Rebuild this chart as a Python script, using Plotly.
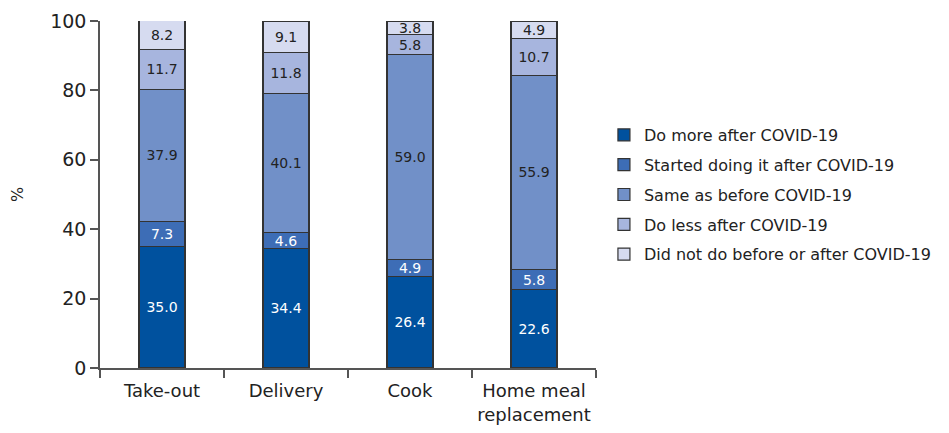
import plotly.graph_objects as go

categories = ["Take-out", "Delivery", "Cook", "Home meal<br>replacement"]
series_names = [
    "Do more after COVID-19",
    "Started doing it after COVID-19",
    "Same as before COVID-19",
    "Do less after COVID-19",
    "Did not do before or after COVID-19",
]
do_more = [35.0, 34.4, 26.4, 22.6]
started = [7.3, 4.6, 4.9, 5.8]
same = [37.9, 40.1, 59.0, 55.9]
do_less = [11.7, 11.8, 5.8, 10.7]
did_not = [8.2, 9.1, 3.8, 4.9]
y_ticks = [0, 20, 40, 60, 80, 100]

values = [do_more, started, same, do_less, did_not]
colors = ["#00519e", "#3d6db6", "#7190c8", "#a7b5de", "#d6dbf0"]
text_colors = ["white", "white", "#222222", "#222222", "#222222"]
FONT = "DejaVu Sans, Verdana, sans-serif"

fig = go.Figure()
for i, (name, vals) in enumerate(zip(series_names, values)):
    fig.add_trace(go.Bar(
        x=categories, y=vals, name=name,
        marker=dict(color=colors[i], line=dict(color="#333333", width=1.2)),
        text=[f"{v:.1f}" for v in vals],
        textposition="inside", insidetextanchor="middle",
        constraintext="none", textangle=0,
        textfont=dict(color=text_colors[i], size=14, family=FONT),
        width=0.37, legendgroup=f"g{i}",
        hoverinfo="skip",
    ))

fig.update_layout(
    barmode="stack",
    width=949, height=433,
    margin=dict(l=92, r=361, t=13, b=73),
    plot_bgcolor="white", paper_bgcolor="white",
    font=dict(family=FONT, color="#222222"),
    showlegend=True,
    legend=dict(
        x=1.016, y=0.5, xanchor="left", yanchor="middle",
        traceorder="grouped", tracegroupgap=6,
        font=dict(size=16, color="#222222"),
        itemwidth=30,
    ),
    xaxis=dict(
        range=[-0.5, 3.5], showline=True, linecolor="#555555", linewidth=1.5,
        ticks="outside", tickson="boundaries", ticklen=8, tickcolor="#555555", tickwidth=1.5,
        tickfont=dict(size=18, color="#222222"), showgrid=False,
        tickangle=0, automargin=False, ticklabelstandoff=6,
    ),
    yaxis=dict(
        range=[0, 100], tickvals=y_ticks, showline=True, linecolor="#555555", linewidth=1.5,
        ticks="outside", ticklen=8, tickcolor="#555555", tickwidth=1.5,
        tickfont=dict(size=19, color="#222222"), showgrid=False, zeroline=False,
        automargin=False,
        title=dict(text="%", font=dict(size=16, color="#222222"), standoff=30),
    ),
)

fig.write_html("out.html")
